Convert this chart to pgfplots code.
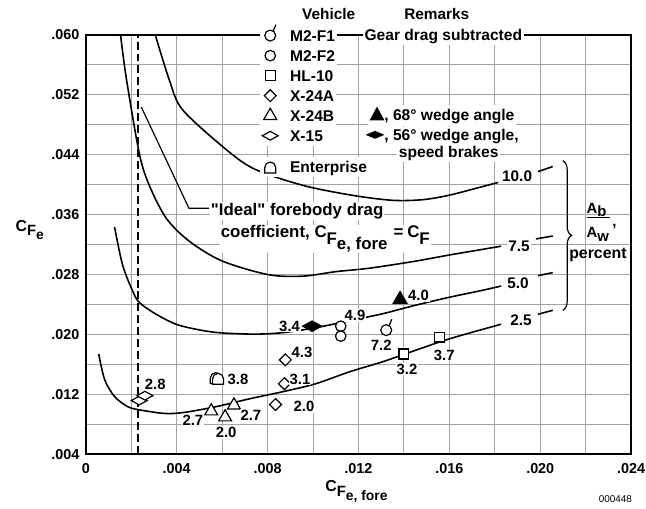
\documentclass[border=0pt]{standalone}
\usepackage{fontspec}
\setmainfont{Liberation Sans}
\usepackage{pgfplots}
\pgfplotsset{compat=1.18}
\usetikzlibrary{decorations.pathreplacing}

\newcommand\fsz[1]{\fontsize{#1}{#1}\selectfont\bfseries}

\pgfdeclareplotmark{m2f1}{%
  \pgfpathcircle{\pgfpointorigin}{\pgfplotmarksize}%
  \pgfusepathqfillstroke
  \pgfpathmoveto{\pgfpointpolar{58}{\pgfplotmarksize}}%
  \pgfpathlineto{\pgfqpoint{1.05\pgfplotmarksize}{2\pgfplotmarksize}}%
  \pgfusepathqstroke}
\pgfdeclareplotmark{sqdiam}{%
  \pgfpathmoveto{\pgfqpoint{0pt}{\pgfplotmarksize}}%
  \pgfpathlineto{\pgfqpoint{\pgfplotmarksize}{0pt}}%
  \pgfpathlineto{\pgfqpoint{0pt}{-\pgfplotmarksize}}%
  \pgfpathlineto{\pgfqpoint{-\pgfplotmarksize}{0pt}}%
  \pgfpathclose\pgfusepathqfillstroke}
\pgfdeclareplotmark{flatdiam}{%
  \pgfpathmoveto{\pgfqpoint{0pt}{0.55\pgfplotmarksize}}%
  \pgfpathlineto{\pgfqpoint{\pgfplotmarksize}{0pt}}%
  \pgfpathlineto{\pgfqpoint{0pt}{-0.55\pgfplotmarksize}}%
  \pgfpathlineto{\pgfqpoint{-\pgfplotmarksize}{0pt}}%
  \pgfpathclose\pgfusepathqfillstroke}
\pgfdeclareplotmark{arch}{%
  \pgfpathmoveto{\pgfqpoint{-\pgfplotmarksize}{-\pgfplotmarksize}}%
  \pgfpathlineto{\pgfqpoint{-\pgfplotmarksize}{0pt}}%
  \pgfpatharc{180}{0}{\pgfplotmarksize}%
  \pgfpathlineto{\pgfqpoint{\pgfplotmarksize}{-\pgfplotmarksize}}%
  \pgfpathclose\pgfusepathqfillstroke}

\pgfplotsset{
  legmark/.style={only marks, mark options={line width=1.2pt, fill=white, solid},
    legend image code/.code={\path[fill=white, draw=none] (-1pt,-10.1pt) rectangle (27pt,10.1pt);
      \draw[##1] plot coordinates {(9pt,0pt)};}},
  curve/.style={forget plot, smooth, line width=1.6pt, black},
  lead/.style={forget plot, line width=1.6pt, black},
}

\begin{document}
\newsavebox\triBox
\sbox\triBox{\tikz\fill (0,0) -- (15pt,0) -- (7.5pt,14pt) -- cycle;}
\newsavebox\diaBox
\sbox\diaBox{\tikz\fill (0,4pt) -- (9.5pt,8pt) -- (19pt,4pt) -- (9.5pt,0) -- cycle;}
\begin{tikzpicture}
\begin{axis}[
  scale only axis, width=550pt, height=423pt,
  xmin=0, xmax=0.024, ymin=0.004, ymax=0.060,
  scaled x ticks=false, scaled y ticks=false,
  xtick={0,0.004,0.008,0.012,0.016,0.020,0.024},
  xticklabels={0,.004,.008,.012,.016,.020,.024},
  minor xtick={0.002,0.006,0.010,0.014,0.018,0.022},
  ytick={0.004,0.012,0.020,0.028,0.036,0.044,0.052,0.060},
  yticklabels={.004,.012,.020,.028,.036,.044,.052,.060},
  minor ytick={0.008,0.016,0.024,0.032,0.040,0.048,0.056},
  grid=both,
  major grid style={draw=black!36, line width=0.9pt},
  minor grid style={draw=black!36, line width=0.9pt},
  major tick length=0pt, minor tick length=0pt,
  axis line style={line width=2.4pt},
  tick label style={font=\fsz{14.5}},
  xticklabel style={yshift=-6pt},
  yticklabel style={xshift=-3pt},
  clip=false,
  legend cell align=left,
  legend style={
    at={(0.32,1.02388)}, anchor=north west,
    draw=none, fill=none, inner sep=0pt, outer sep=0pt,
    font=\fsz{15.7}, row sep=0pt, column sep=0pt,
    nodes={fill=white, inner xsep=2pt, inner ysep=4.6pt, text height=11pt, text depth=0pt},
  },
]
% dashed ideal line
\addplot[forget plot, line width=1.4pt, dash pattern=on 8pt off 4pt] coordinates {(0.00229,0.004) (0.00229,0.060)};
% Ab/Aw = 10.0
\addplot[curve] coordinates {(0.003055,0.0600) (0.003665,0.05404) (0.004233,0.05007) (0.005978,0.04517) (0.007375,0.04213) (0.009556,0.03988) (0.011738,0.03855) (0.013483,0.03789) (0.014793,0.03796) (0.01597,0.03855) (0.01741,0.03968) (0.018152,0.04027)};
\addplot[lead] coordinates {(0.0199,0.04173) (0.02055,0.04239)};
% 7.5
\addplot[curve] coordinates {(0.001527,0.0600) (0.001789,0.05404) (0.002356,0.04411) (0.002793,0.03988) (0.003535,0.03551) (0.004538,0.03246) (0.005978,0.02981) (0.008029,0.02796) (0.009556,0.02776) (0.011,0.02836) (0.01248,0.02882) (0.014487,0.02975) (0.01597,0.03057) (0.01741,0.03131) (0.01828,0.03176)};
\addplot[lead] coordinates {(0.01981,0.03273) (0.02055,0.03312)};
% 5.0
\addplot[curve] coordinates {(0.001265,0.03432) (0.001615,0.02929) (0.002051,0.02584) (0.002356,0.02425) (0.003098,0.02267) (0.004102,0.02121) (0.005629,0.02028) (0.007375,0.02002) (0.008684,0.02022) (0.010124,0.02088) (0.011607,0.02181) (0.013047,0.02273) (0.014487,0.02386) (0.01597,0.02492) (0.01741,0.02584) (0.01828,0.02644)};
\addplot[lead] coordinates {(0.0199,0.02783) (0.02055,0.02823)};
% 2.5
\addplot[curve] coordinates {(0.000567,0.01737) (0.000829,0.01393) (0.001265,0.01168) (0.001833,0.01035) (0.002269,0.00996) (0.003447,0.00943) (0.00432,0.00956) (0.00576,0.01035) (0.007244,0.01141) (0.008684,0.01234) (0.010124,0.0134) (0.011607,0.01499) (0.013047,0.01631) (0.01405,0.01737) (0.01597,0.01936) (0.01828,0.02134)};
\addplot[lead] coordinates {(0.0199,0.02267) (0.02055,0.0232)};

% vehicles
\addplot[legmark, mark=m2f1, mark size=5.5pt] coordinates {(0.01322,0.02055)};
\addlegendentry{M2-F1}
\addplot[legmark, mark=*, mark size=5.3pt] coordinates {(0.01122,0.02108) (0.01122,0.01975)};
\addlegendentry{M2-F2}
\addplot[legmark, mark=square*, mark size=5pt] coordinates {(0.0140,0.01737) (0.01557,0.01962)};
\addlegendentry{HL-10}
\addplot[legmark, mark=sqdiam, mark size=6pt] coordinates {(0.00835,0.01062) (0.00874,0.0134) (0.00878,0.01658)};
\addlegendentry{X-24A}
\addplot[legmark, mark=triangle*, mark size=7.5pt] coordinates {(0.00552,0.00973) (0.00613,0.00893) (0.00652,0.01052)};
\addlegendentry{X-24B}
\addplot[legmark, mark=flatdiam, mark size=8pt] coordinates {(0.00235,0.01115) (0.0026,0.0118)};
\addlegendentry{X-15}
\addlegendimage{empty legend}
\addlegendentry[fill=none, text height=2.6pt]{}
\addplot[legmark, mark=arch, mark size=5.5pt] coordinates {(0.00572,0.01415) (0.00582,0.01405)};
\addlegendentry{Enterprise}
% remarks: filled symbols
\addplot[forget plot, only marks, mark=triangle*, mark size=8pt, mark options={fill=black, line width=1.2pt}] coordinates {(0.01383,0.02465)};
\addplot[forget plot, only marks, mark=flatdiam, mark size=9.5pt, mark options={fill=black, line width=1.2pt}] coordinates {(0.00996,0.02108)};
\end{axis}

% data labels
\begin{scope}[every node/.style={fill=white, inner sep=1pt, text height=10.7pt, text depth=0pt, font=\fsz{15}}]
\node at (70pt,71pt) {2.8};
\node at (153.5pt,76pt) {3.8};
\node at (108pt,34pt) {2.7};
\node at (141.5pt,22pt) {2.0};
\node at (166.5pt,39pt) {2.7};
\node at (220pt,48pt) {2.0};
\node at (216pt,76pt) {3.1};
\node at (218pt,103pt) {4.3};
\node at (205.5pt,129pt) {3.4};
\node at (271.5pt,140pt) {4.9};
\node at (335.5pt,160pt) {4.0};
\node at (298pt,110pt) {7.2};
\node at (324pt,86pt) {3.2};
\node at (361.5pt,100pt) {3.7};
\end{scope}
% curve labels
\begin{scope}[every node/.style={fill=white, inner sep=1.5pt, text height=11.1pt, text depth=0pt, font=\fsz{15.5}}]
\node at (435pt,280pt) {10.0};
\node at (437pt,210pt) {7.5};
\node at (436pt,173pt) {5.0};
\node at (439pt,135pt) {2.5};
\end{scope}
% brace and ratio label
\draw[line width=1.2pt, decorate, decoration={brace, amplitude=9pt}] (481pt,296pt) -- (481pt,145pt);
\node[anchor=base west, inner sep=0pt, font=\fsz{15}] at (505pt,243pt) {A\raisebox{-3pt}{b}};
\draw[line width=1.2pt] (505pt,239pt) -- (529pt,239pt);
\node[anchor=base west, inner sep=0pt, font=\fsz{15}] at (505pt,218pt) {A\raisebox{-4pt}{w}};
\node[anchor=base west, inner sep=0pt, font=\fsz{15}] at (531pt,230pt) {,};
\node[anchor=base, inner sep=0pt, font=\fsz{16}] at (516.5pt,197pt) {percent};
% ideal annotation
\draw[line width=1.2pt] (56pt,350pt) -- (104pt,248pt) -- (124pt,248pt);
\node[anchor=base west, fill=white, inner sep=1pt, font=\fsz{17}] at (125pt,241pt) {\textquotedbl Ideal\textquotedbl{} forebody drag};
\node[anchor=base west, fill=white, inner sep=1pt, font=\fsz{17}] at (135pt,218pt)
  {coefficient, C\raisebox{-7pt}{F\raisebox{-5pt}{e, fore}}\hspace{6pt}=\hspace{4pt}C\raisebox{-7pt}{F}};
% header and remarks
\node[anchor=base, inner sep=0pt, font=\fsz{15.5}] at (245pt,438.5pt) {Vehicle};
\node[anchor=base, inner sep=0pt, font=\fsz{15.5}] at (354pt,438.5pt) {Remarks};
\begin{scope}[every node/.style={fill=white, inner sep=2pt, font=\fsz{15.7}}]
\node[anchor=base west] at (279pt,417.5pt) {Gear drag subtracted};
\node[anchor=base west] at (284pt,336.5pt) {\usebox\triBox, 68° wedge angle};
\node[anchor=base west] at (280pt,316.5pt) {\raisebox{1.5pt}{\usebox\diaBox}, 56° wedge angle,};
\node[anchor=base] at (366pt,299.5pt) {speed brakes};
\end{scope}
% axis labels
\node[anchor=base west, inner sep=0pt, font=\fsz{16}] at (-71pt,225pt)
  {C\raisebox{-5pt}{\fontsize{15}{15}\selectfont F\raisebox{-4pt}{\fontsize{14}{14}\selectfont e}}};
\node[anchor=base, inner sep=0pt, font=\fsz{16}] at (273pt,-38pt)
  {C\raisebox{-5pt}{\fontsize{15}{15}\selectfont F\raisebox{-4pt}{\fontsize{14}{14}\selectfont e, fore}}};
\node[anchor=base east, inner sep=0pt, font=\fontsize{10}{10}\selectfont] at (551pt,-49pt) {000448};
\pgfresetboundingbox
\path[use as bounding box] (-81pt,-55pt) rectangle (565pt,458pt);
\end{tikzpicture}
\end{document}
